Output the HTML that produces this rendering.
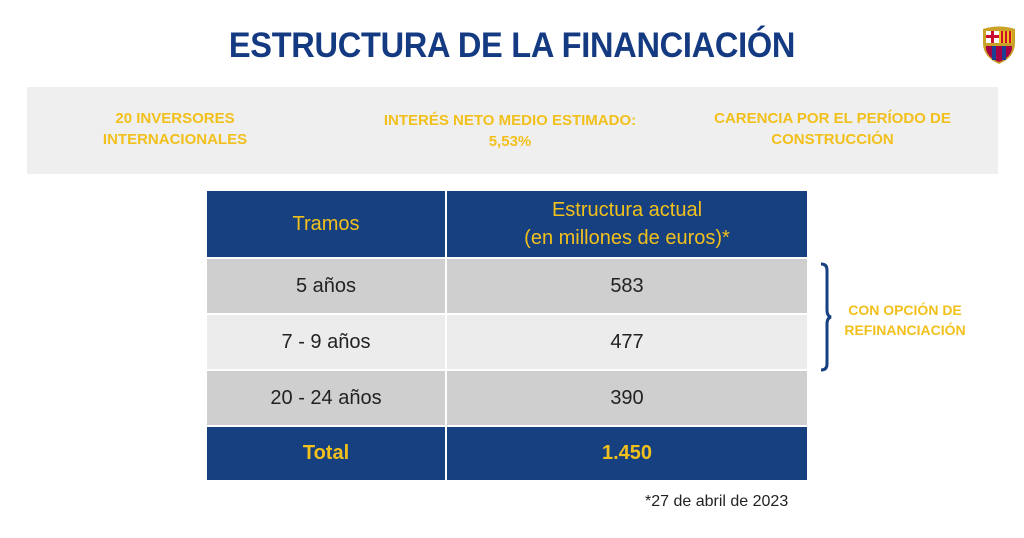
<!DOCTYPE html>
<html><head><meta charset="utf-8"><style>
body{margin:0;width:1024px;height:538px;background:#fff;position:relative;overflow:hidden;font-family:"Liberation Sans",sans-serif}
.t{position:absolute;left:0;width:1024px;top:26px;text-align:center;font-weight:bold;font-size:35px;color:#143a82;letter-spacing:-0.3px;transform:scaleX(0.93)}
.band{position:absolute;left:27px;top:87px;width:971px;height:87px;background:#efefef}
.y{position:absolute;color:#f2c01c;font-weight:bold;font-size:15px;line-height:21px;text-align:center}
table{position:absolute;left:205px;top:189px;border-collapse:collapse;width:604px}
td{border:2px solid #fff;text-align:center;font-size:20px;color:#222;padding:0}
.h td{background:#16407f;color:#f2c01c;height:66px;line-height:28px}
.r td{background:#cfcfcf;height:54px}
.r2 td{background:#ececec}
.tot td{background:#16407f;color:#f2c01c;height:53px;font-weight:bold}
</style></head><body>
<div class="t">ESTRUCTURA DE LA FINANCIACIÓN</div>
<svg style="position:absolute;left:980px;top:25px" width="38" height="40" viewBox="0 0 38 40">
<path d="M3 4 Q19 -1 35 4 L35 18 Q35 32 19 39 Q3 32 3 18Z" fill="#c9a227"/>
<rect x="6" y="6" width="13" height="12" fill="#fff"/><rect x="11" y="6" width="3" height="12" fill="#c8102e"/><rect x="6" y="10" width="13" height="3" fill="#c8102e"/>
<rect x="19" y="6" width="13" height="12" fill="#f2c01c"/><rect x="21" y="6" width="2" height="12" fill="#c8102e"/><rect x="25" y="6" width="2" height="12" fill="#c8102e"/><rect x="29" y="6" width="2" height="12" fill="#c8102e"/>
<path d="M6 21 L32 21 L32 24 Q30 33 19 37 Q8 33 6 24Z" fill="#a50044"/><rect x="12" y="21" width="4" height="14" fill="#1c3f94"/><rect x="22" y="21" width="4" height="14" fill="#1c3f94"/>
</svg>
<div class="band"></div>
<div class="y" style="left:90px;width:170px;top:108px">20 INVERSORES<br>INTERNACIONALES</div>
<div class="y" style="left:360px;width:300px;top:110px">INTERÉS NETO MEDIO ESTIMADO:<br>5,53%</div>
<div class="y" style="left:690px;width:285px;top:108px">CARENCIA POR EL PERÍODO DE<br>CONSTRUCCIÓN</div>
<table>
<tr class="h"><td style="width:238px">Tramos</td><td>Estructura actual<br>(en millones de euros)*</td></tr>
<tr class="r"><td>5 años</td><td>583</td></tr>
<tr class="r r2"><td>7 - 9 años</td><td>477</td></tr>
<tr class="r"><td>20 - 24 años</td><td>390</td></tr>
<tr class="tot"><td>Total</td><td>1.450</td></tr>
</table>
<svg style="position:absolute;left:815px;top:262px" width="20" height="112"><path d="M6 2 Q12 2 12 8 L12 48 Q12 54 16 55 Q12 56 12 62 L12 102 Q12 108 6 108" fill="none" stroke="#16407f" stroke-width="3"/></svg>
<div class="y" style="left:835px;width:140px;top:300px;font-size:14px;line-height:20px">CON OPCIÓN DE<br>REFINANCIACIÓN</div>
<div style="position:absolute;left:645px;top:493px;font-size:16px;color:#222">*27 de abril de 2023</div>
</body></html>
